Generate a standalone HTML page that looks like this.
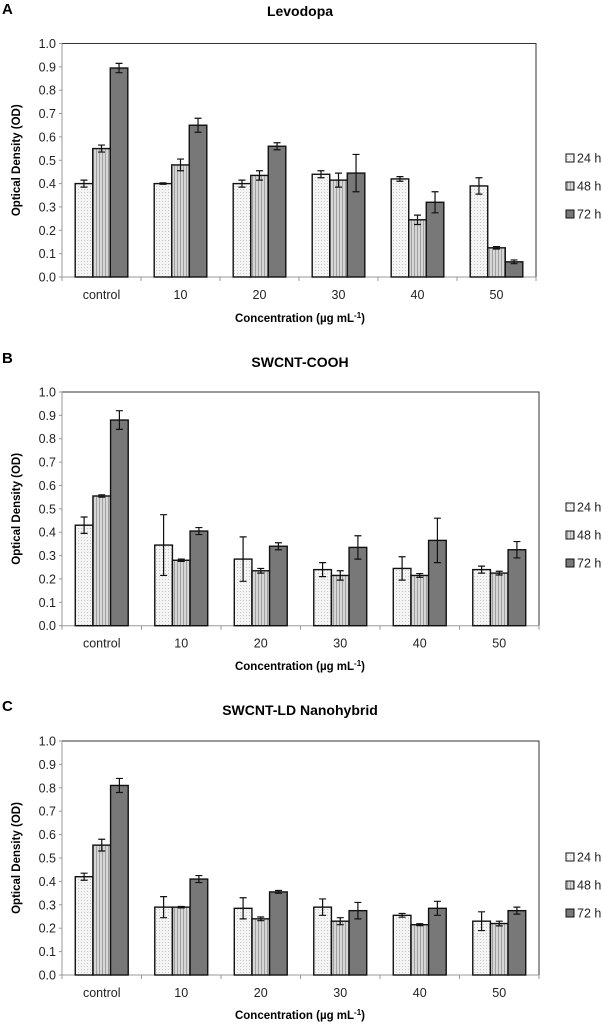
<!DOCTYPE html>
<html><head><meta charset="utf-8">
<style>
html,body{margin:0;padding:0;background:#fff;}
svg{display:block;font-family:"Liberation Sans",sans-serif;}
</style></head>
<body>
<svg id="fig" width="602" height="1024" viewBox="0 0 602 1024" xmlns="http://www.w3.org/2000/svg">
<defs>
<pattern id="dots" width="3" height="3" patternUnits="userSpaceOnUse"><rect width="3" height="3" fill="#f4f4f4"/><rect width="1" height="1" fill="#c8c8c8"/></pattern>
<pattern id="vstripe" width="3" height="3" patternUnits="userSpaceOnUse"><rect width="3" height="3" fill="#d6d6d6"/><rect width="1" height="3" fill="#a0a0a0"/></pattern>
</defs>
</svg>
<script>
const categories = ["control","10","20","30","40","50"];
const seriesNames = ["24 h","48 h","72 h"];
const yTicks = [0,0.1,0.2,0.3,0.4,0.5,0.6,0.7,0.8,0.9,1.0];
const titles = ["Levodopa","SWCNT-COOH","SWCNT-LD Nanohybrid"];
const letters = ["A","B","C"];
const aVals24 = [0.40,0.40,0.40,0.44,0.42,0.39];
const aVals48 = [0.55,0.48,0.435,0.415,0.245,0.125];
const aVals72 = [0.895,0.65,0.56,0.445,0.32,0.065];
const aErr24 = [0.015,0.003,0.015,0.015,0.01,0.035];
const aErr48 = [0.015,0.025,0.02,0.03,0.02,0.005];
const aErr72 = [0.02,0.03,0.015,0.08,0.045,0.008];
const bVals24 = [0.43,0.345,0.285,0.24,0.245,0.24];
const bVals48 = [0.555,0.28,0.235,0.215,0.215,0.225];
const bVals72 = [0.88,0.405,0.34,0.335,0.365,0.325];
const bErr24 = [0.035,0.13,0.095,0.03,0.05,0.015];
const bErr48 = [0.005,0.005,0.01,0.02,0.008,0.008];
const bErr72 = [0.04,0.015,0.015,0.05,0.095,0.035];
const cVals24 = [0.42,0.29,0.285,0.29,0.255,0.23];
const cVals48 = [0.555,0.29,0.24,0.23,0.215,0.22];
const cVals72 = [0.81,0.41,0.355,0.275,0.285,0.275];
const cErr24 = [0.015,0.045,0.045,0.035,0.008,0.04];
const cErr48 = [0.025,0.003,0.008,0.015,0.004,0.01];
const cErr72 = [0.03,0.015,0.006,0.035,0.03,0.015];

const panelVals = [[aVals24,aVals48,aVals72],[bVals24,bVals48,bVals72],[cVals24,cVals48,cVals72]];
const panelErrs = [[aErr24,aErr48,aErr72],[bErr24,bErr48,bErr72],[cErr24,cErr48,cErr72]];
const layouts = [
 {top:43.5,bottom:277,right:536,letterY:14,titleY:16,xlabY:322,legY:158},
 {top:392,bottom:625.7,right:539,letterY:363,titleY:367,xlabY:670,legY:507},
 {top:741,bottom:975,right:539,letterY:711,titleY:715,xlabY:1019,legY:857}
];
const fills = ["url(#dots)","url(#vstripe)","#787878"];
const NS="http://www.w3.org/2000/svg";
const svg=document.getElementById('fig');
function mk(tag,attrs,parent,text){const e=document.createElementNS(NS,tag);for(const k in attrs)e.setAttribute(k,attrs[k]);if(text!==undefined)e.textContent=text;(parent||svg).appendChild(e);return e;}

layouts.forEach((L,p)=>{
  const g=mk('g',{});
  
  
  const left=62;
  const y=v=>L.bottom-(v/1.0)*(L.bottom-L.top);
  const gw=(L.right-left)/categories.length;
  const bw=gw*0.222;
  const x=(ci,si)=>left+gw*ci+gw/2-1.5*bw+si*bw;
  const lt=mk('text',{x:2,y:L.letterY,'font-size':15,'font-weight':'bold'},g,letters[p]);
  
  
  const tt=mk('text',{x:300,y:L.titleY,'font-size':14,'font-weight':'bold','text-anchor':'middle'},g,titles[p]);
  
  
  // frame
  const fr=mk('path',{d:`M${left} ${L.top}H${L.right}V${L.bottom}`,fill:'none',stroke:'#333','stroke-width':1},g);
  
  
  const ya=mk('line',{x1:left,y1:L.top,x2:left,y2:L.bottom+3,stroke:'#999'},g);
  
  
  const xa=mk('line',{x1:left,y1:L.bottom,x2:L.right,y2:L.bottom,stroke:'#999'},g);
  
  
  yTicks.forEach(t=>{
    mk('line',{x1:left-3,y1:y(t),x2:left,y2:y(t),stroke:'#999'},g);
    const tl=mk('text',{x:56,y:y(t)+4.5,'font-size':12.5,'text-anchor':'end',fill:'#222'},g,t.toFixed(1));
    
    
  });
  for(let i=0;i<=categories.length;i++){mk('line',{x1:left+gw*i,y1:L.bottom,x2:left+gw*i,y2:L.bottom+4,stroke:'#999'},g);}
  categories.forEach((c,i)=>{
    const cl=mk('text',{x:left+gw*i+gw/2,y:L.bottom+22,'font-size':12.5,'text-anchor':'middle',fill:'#222'},g,c);
    
    
  });
  const xl=mk('text',{x:300,y:L.xlabY,'font-size':11.5,'font-weight':'bold','text-anchor':'middle'},g);
  
  
  xl.innerHTML='Concentration (µg mL<tspan dy="-4" font-size="8">-1</tspan><tspan dy="4">)</tspan>';
  const cy=(L.top+L.bottom)/2;
  const yl=mk('text',{x:0,y:0,'font-size':11.5,'font-weight':'bold','text-anchor':'middle',transform:`translate(20,${cy}) rotate(-90)`},g,'Optical Density (OD)');
  
  
  for(let s=0;s<3;s++){
    categories.forEach((c,i)=>{
      const v=panelVals[p][s][i], e=panelErrs[p][s][i];
      const bx=x(i,s);
      const b=mk('rect',{x:bx,y:y(v),width:bw,height:L.bottom-y(v),fill:fills[s],stroke:'#111','stroke-width':1.4},g);
      
      
      const cx=bx+bw/2;
      const eb=mk('path',{d:`M${cx} ${y(v+e)}V${y(v-e)}M${cx-3.5} ${y(v+e)}H${cx+3.5}M${cx-3.5} ${y(v-e)}H${cx+3.5}`,stroke:'#111','stroke-width':1.2,fill:'none'},g);
      
      
    });
  }
  seriesNames.forEach((n,s)=>{
    const ly=L.legY+s*28;
    const lg=mk('g',{},g);
    
    
    mk('rect',{x:566,y:ly-4,width:8,height:8,fill:fills[s],stroke:'#111','stroke-width':1},lg);
    mk('text',{x:577,y:ly+4.5,'font-size':12.5,fill:'#222'},lg,n);
  });
});
</script>
</body></html>
